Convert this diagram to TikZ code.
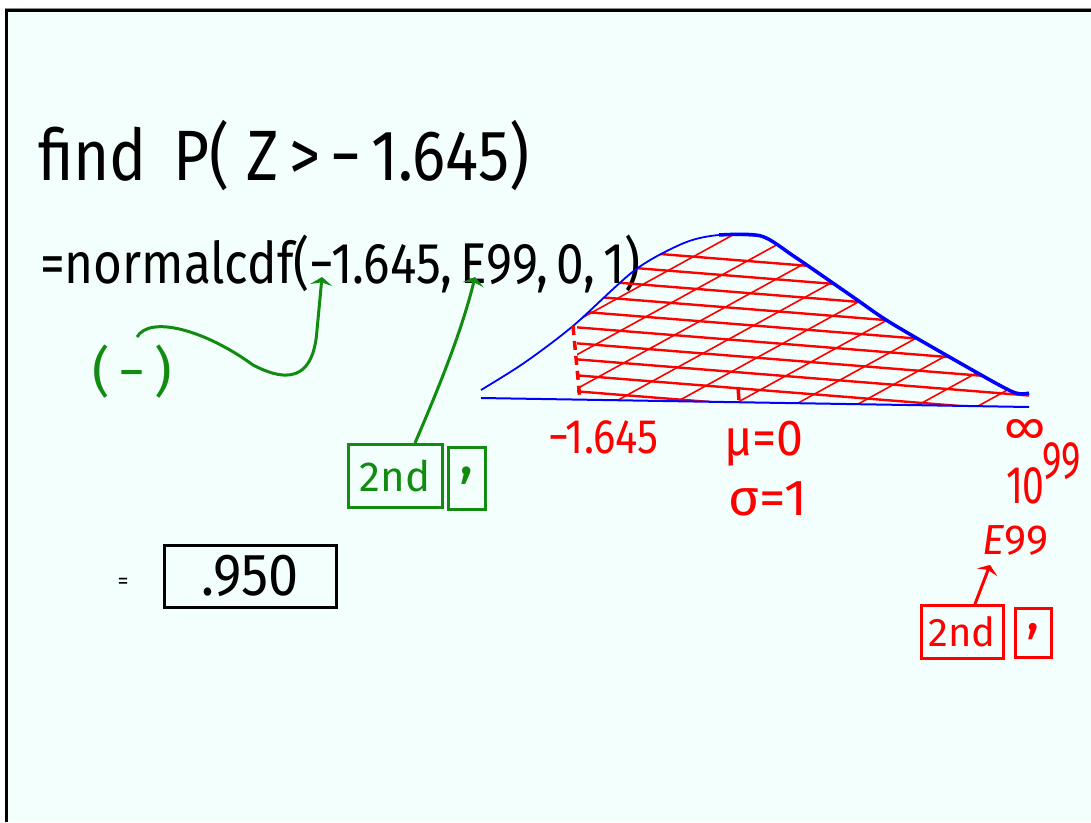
\documentclass[tikz,border=0pt]{standalone}
\usepackage{fontspec}
\setmainfont{Fira Sans}
\usetikzlibrary{arrows.meta}
\definecolor{bgc}{RGB}{242,255,252}
\definecolor{gr}{RGB}{17,140,17}
\newcommand\hsz[1]{\fontsize{#1}{#1}\selectfont}
\tikzset{
  ink/.style={inner sep=0pt, outer sep=0pt},
  gkey/.style={draw=gr, line width=3pt, text=gr, inner sep=0pt, font=\hsz{42}},
  rkey/.style={draw=red, line width=3pt, text=red, inner sep=0pt, font=\hsz{40}},
  garrow/.style={draw=gr, line width=3pt, -{Stealth[length=8pt,width=22pt]}},
  rarrow/.style={draw=red, line width=3pt, -{Stealth[length=8pt,width=22pt]}},
  hatch/.style={red, line width=1.6pt},
  hatchb/.style={red, line width=2.4pt},
}
\begin{document}
\begin{tikzpicture}[x=1pt,y=-1pt]
\useasboundingbox (0,0) rectangle (1091,822);
\fill[white] (0,0) rectangle (1091,822);
\fill[bgc] (6,10) rectangle (1091,822);
\draw[black!45, line width=1pt] (5,8) -- (1091,8);
\draw[black, line width=3pt] (6,822) -- (6,10) -- (1091,10);

% --- text, black
\node[ink, anchor=base west, font=\hsz{62}] (find) at (38,180) {\scalebox{1}[1.15]{find\, P( Z\,>\,\textminus\,1.645)}};
\node[ink, anchor=base west, font=\hsz{50}] (ncdf) at (40,283) {\scalebox{0.99}[1.15]{=normalcdf(\textminus1.645,\,E99,\,0,\,1)}};
\node[ink, font=\hsz{22}] (eq) at (123,583) {=};
\node[draw=black, line width=3pt, minimum width=172pt, minimum height=62pt, inner sep=0pt, font=\hsz{54}] (ans) at (250,576) {\scalebox{1}[1.1]{.950}};

% --- green annotations
\node[ink, anchor=base west, text=gr, font=\hsz{54}] (neg) at (92,390) {(\,\textminus\,)};
\node[gkey, minimum width=94pt, minimum height=63pt] (g2nd) at (395,476) {2nd};
\node[gkey, minimum width=37pt, minimum height=62pt, font=\hsz{60}] (gcom) at (467,478) {\raisebox{14pt}{,}};
\coordinate (tipA) at (322,277);
\coordinate (tipE) at (475,277);
\coordinate (gstart) at (137,337);
\draw[garrow] (gstart) .. controls (150,315) and (205,330) .. (253,365)
   .. controls (295,387) and (314,372) .. (317,330) -- (tipA);
\draw[garrow] ([xshift=20pt]g2nd.north) .. controls (440,385) and (462,330) .. (tipE);

% --- bell curve
\begin{scope}
  \clip (577,200) rectangle (1040,420);
  \clip plot[smooth] coordinates {(481,390) (524,363) (573,326) (635,270) (684,243) (719,235) (761,236) (795,257) (853,297) (891,323) (967,367) (1013,392) (1029,393)} -- (1029,407) -- (481,398) -- cycle;
  \foreach \c in {330,364,...,810} {
    \draw[hatch] (560,\c) -- ++(500,-275);
  }
  \foreach \c in {246,262,...,406} {
    \draw[hatchb] (560,\c) -- ++(500,40);
  }
\end{scope}
\draw[blue, line width=1.8pt] plot[smooth] coordinates {(481,390) (524,363) (573,326) (635,270) (684,243) (719,235) (761,236)};
\draw[blue, line width=3.5pt] plot[smooth] coordinates {(719,235) (761,236) (795,257) (853,297) (891,323) (967,367) (1013,392) (1029,393)};
\draw[blue, line width=2pt] (481,398) -- (1029,407);
\draw[red, line width=3.5pt, dash pattern=on 9pt off 6pt] (573,326) -- (580,400);
\draw[red, line width=3.5pt] (738,387) -- (739,400);

% --- red labels
\node[ink, anchor=base west, text=red, font=\hsz{44}] (lz) at (548,453) {\scalebox{0.95}[1.1]{\textminus1.645}};
\node[ink, anchor=base west, text=red, font=\hsz{46}] (mu) at (724,455) {\scalebox{1.05}[1.1]{μ=0}};
\node[ink, anchor=base west, text=red, font=\hsz{46}] (sg) at (728,515) {\scalebox{1.15}[1.1]{σ=1}};
\node[ink, text=red, font=\hsz{46}] (inf) at (1025,431) {∞};
\node[ink, anchor=base west, text=red, font=\hsz{46}] (ten) at (1006,503) {\scalebox{0.85}[1.15]{10}};
\node[ink, anchor=base west, text=red, font=\hsz{46}] (sup) at (1042,478) {\scalebox{0.8}[1.15]{99}};
\node[ink, anchor=base west, text=red, font=\hsz{42}] (e99) at (982,554) {\textit{E}99};
\node[rkey, minimum width=82pt, minimum height=53pt] (r2nd) at (962,632) {2nd};
\node[rkey, minimum width=36pt, minimum height=49pt, font=\hsz{56}] (rcom) at (1033,633) {\raisebox{12pt}{,}};
\draw[rarrow] ([xshift=13pt]r2nd.north) -- ([xshift=8pt,yshift=-10pt]e99.south west);
\end{tikzpicture}
\end{document}
